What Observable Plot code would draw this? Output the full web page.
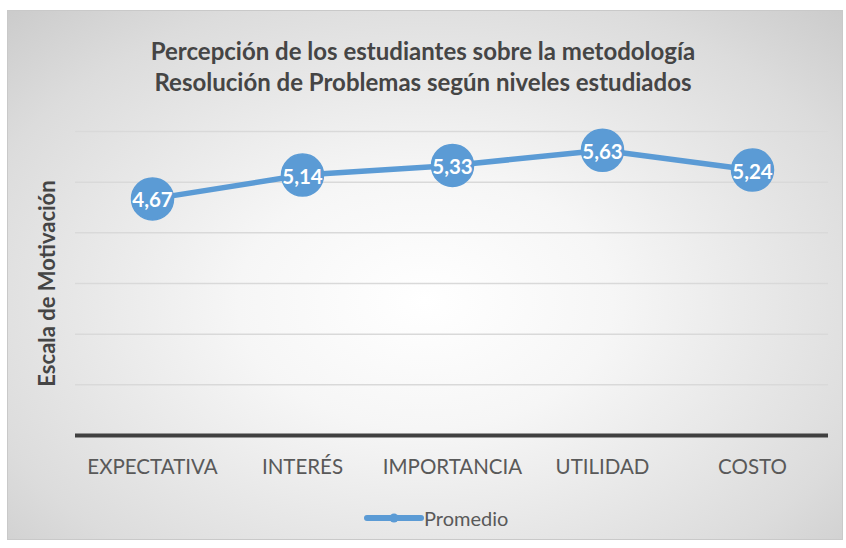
<!DOCTYPE html>
<html>
<head>
<meta charset="utf-8">
<script src="https://cdn.jsdelivr.net/npm/d3@7"></script>
<script src="https://cdn.jsdelivr.net/npm/@observablehq/plot@0.6"></script>
<style>
  html, body { margin: 0; padding: 0; background: #ffffff; }
  #wrap { position: relative; width: 846px; height: 548px; overflow: hidden; font-family: Lato, "Open Sans", sans-serif; }
  #box { position: absolute; left: 7px; top: 10px; width: 834px; height: 528px; border: 1px solid #c9c9c9;
         background: radial-gradient(ellipse 75% 80% at 50% 55%, #ffffff 0%, #f6f6f6 30%, #dcdcdc 75%, #c8c8c8 100%); }
  #title { position: absolute; left: 0; width: 846px; top: 35px; text-align: center; font-weight: bold; font-size: 24px;
           line-height: 31px; color: #454545; }
  #chart { position: absolute; left: 0; top: 0; }
  #legend { position: absolute; top: 506px; left: 364px; height: 24px; display: flex; align-items: center; font-size: 20px; color: #595959; }
</style>
</head>
<body>
<div id="wrap">
  <div id="box"></div>
  <div id="chart"></div>
  <div id="title">Percepción de los estudiantes sobre la metodología<br>Resolución de Problemas según niveles estudiados</div>
  <div id="legend"><svg width="60" height="14"><line x1="3" y1="7" x2="57" y2="7" stroke="#5b9bd5" stroke-width="6" stroke-linecap="round"/><circle cx="30" cy="7" r="4.5" fill="#5b9bd5"/></svg><span>Promedio</span></div>
</div>
<script>
const categories = ["EXPECTATIVA", "INTERÉS", "IMPORTANCIA", "UTILIDAD", "COSTO"];
const promedio = [4.67, 5.14, 5.33, 5.63, 5.24];
const labels = ["4,67", "5,14", "5,33", "5,63", "5,24"];
const gridTicks = [1, 2, 3, 4, 5, 6];
const seriesName = "Promedio";
const yTitle = "Escala de Motivación";

const data = categories.map((c, i) => ({cat: c, value: promedio[i], label: labels[i], series: seriesName}));
const blue = "#5b9bd5";

const chart = Plot.plot({
  width: 846,
  height: 548,
  marginLeft: 75,
  marginRight: 18,
  marginTop: 131,
  marginBottom: 113,
  style: {background: "transparent", color: "#595959", fontFamily: "Lato, 'Open Sans', sans-serif", overflow: "visible"},
  x: {type: "band", domain: categories, padding: 0, label: null},
  y: {domain: [0, 6], label: null},
  marks: [
    Plot.ruleY(gridTicks, {stroke: "#d9d9d9", strokeWidth: 1.5}),
    Plot.ruleY([0], {stroke: "#404040", strokeWidth: 4}),
    Plot.axisX({tickSize: 0, tickPadding: 24, fontSize: 20.5, label: null}),
    Plot.axisY({ticks: [], tickSize: 0, label: null}),
    Plot.text([yTitle], {frameAnchor: "left", rotate: -90, dx: -28, fontSize: 22, fontWeight: "bold", textAnchor: "middle", fill: "#454545"}),
    Plot.line(data, {x: "cat", y: "value", stroke: blue, strokeWidth: 5.5}),
    Plot.dot(data, {x: "cat", y: "value", r: 21, fill: blue, stroke: blue}),
    Plot.text(data, {x: "cat", y: "value", text: "label", fill: "white", fontSize: 20.5, fontWeight: "bold", dy: 2})
  ]
});
document.getElementById("chart").appendChild(chart);
</script>
</body>
</html>
